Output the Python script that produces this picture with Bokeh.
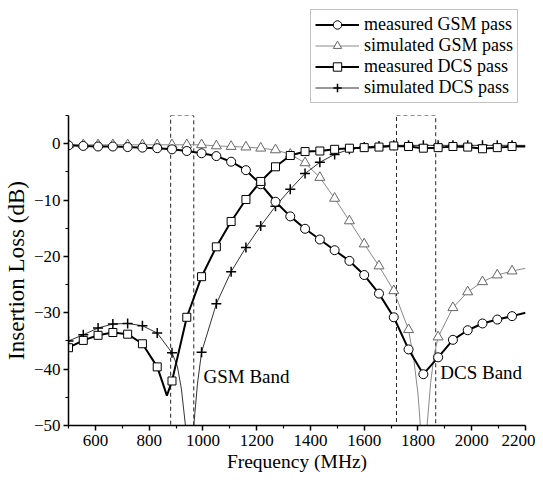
from bokeh.plotting import figure
from bokeh.models import Range1d, FixedTicker, Legend, LegendItem, Label
from bokeh.layouts import column
from bokeh.embed import file_html
from bokeh.resources import INLINE

nan = float("nan")
FONT = "Liberation Serif"

# ---- data ----
freq = [500, 555, 610, 665, 720, 775, 830, 885, 940, 995,
        1050, 1105, 1160, 1215, 1270, 1325, 1380, 1435, 1490, 1545,
        1600, 1655, 1710, 1765, 1820, 1875, 1930, 1985, 2040, 2095, 2150]

meas_gsm = [-0.3, -0.4, -0.5, -0.5, -0.6, -0.7, -0.8, -1.0, -1.3, -1.7,
            -2.2, -3.2, -4.7, -7.2, -10.3, -12.9, -15.1, -17.0, -18.9, -20.8,
            -23.3, -26.6, -30.8, -36.5, -40.9, -37.9, -34.8, -33.1, -31.9, -31.2, -30.6]
sim_gsm = [-0.2, -0.2, -0.2, -0.2, -0.2, -0.2, -0.2, -0.2, -0.2, -0.2,
           -0.4, -0.5, -0.6, -0.8, -1.1, -1.9, -3.4, -6.0, -9.7, -13.7,
           -17.8, -21.7, -26.1, -33.0, nan, -34.3, -29.1, -26.3, -24.5, -23.3, -22.6]
meas_dcs = [-36.2, -34.9, -34.0, -33.5, -33.8, -35.5, -39.6, -42.1, -30.8, -23.6,
            -18.3, -13.8, -9.9, -6.7, -4.1, -2.1, -1.4, -1.3, -1.0, -0.8,
            -0.7, -0.6, -0.4, -0.5, -0.8, -0.7, -0.5, -0.6, -0.9, -0.7, -0.5]
sim_dcs = [-35.0, -33.9, -32.7, -32.0, -31.9, -32.3, -33.6, -37.1, nan, -37.0,
           -28.4, -22.7, -18.4, -14.6, -11.1, -8.1, -5.3, -3.3, -1.9, -1.0,
           -0.6, -0.4, -0.3, -0.3, -0.3, -0.3, -0.3, -0.3, -0.3, -0.3, -0.3]

# extra curve points between markers (notches, curve ends)
meas_gsm_extra_f = [2200]
meas_gsm_extra_v = [-30.0]
sim_gsm_extra_f = [1785, 1800, 1809, 1815, 1821, 1828, 1834, 1847, 1860, 2200]
sim_gsm_extra_v = [-38.5, -44.4, -50.0, -60.0, -75.0, -60.0, -50.0, -42.5, -37.5, -22.1]
meas_dcs_extra_f = [850, 866, 2200]
meas_dcs_extra_v = [-42.4, -44.7, -0.5]
sim_dcs_extra_f = [905, 920, 935, 942, 950, 958, 966, 980, 2200]
sim_dcs_extra_v = [-39.5, -43.5, -50.0, -60.0, -75.0, -60.0, -50.0, -42.5, -0.3]

gsm_band = [880, 966]
dcs_band = [1720, 1866]
band_top, band_bottom = 5, -50

x_ticks = [600, 800, 1000, 1200, 1400, 1600, 1800, 2000, 2200]
x_minor = [500, 700, 900, 1100, 1300, 1500, 1700, 1900, 2100]
y_ticks = [-50, -40, -30, -20, -10, 0]
y_minor = [-45, -35, -25, -15, -5, 5]

series_names = ["measured GSM pass", "simulated GSM pass",
                "measured DCS pass", "simulated DCS pass"]

STYLE = {
    "meas_gsm": dict(line=dict(line_color="black", line_width=2),
                     mark=dict(marker="circle", size=9, fill_color="white",
                               line_color="black", line_width=1)),
    "sim_gsm": dict(line=dict(line_color="#8a8a8a", line_width=1),
                    mark=dict(marker="triangle", size=10, fill_color="white",
                              line_color="#666666", line_width=1)),
    "meas_dcs": dict(line=dict(line_color="black", line_width=2),
                     mark=dict(marker="square", size=8, fill_color="white",
                               line_color="black", line_width=1)),
    "sim_dcs": dict(line=dict(line_color="#333333", line_width=1),
                    mark=dict(marker="cross", size=10, line_color="black",
                              line_width=1.5)),
}
order = ["meas_gsm", "sim_gsm", "meas_dcs", "sim_dcs"]


def curve(f, v, ef, ev):
    pts = [(a, b) for a, b in zip(f, v) if b == b] + list(zip(ef, ev))
    pts.sort()
    return [a for a, _ in pts], [b for _, b in pts]


W = 535
LEG_H = 114
MAIN_H = 361

p = figure(width=W, height=MAIN_H, output_backend="svg", toolbar_location=None,
           x_range=Range1d(500, 2200), y_range=Range1d(-50, 5),
           min_border_left=60, min_border_right=10, min_border_top=1,
           min_border_bottom=50)
p.xgrid.visible = False
p.ygrid.visible = False
p.outline_line_color = None
p.background_fill_color = "white"

# band boxes
p.quad(left=[gsm_band[0], dcs_band[0]], right=[gsm_band[1], dcs_band[1]],
       top=[band_top, band_top], bottom=[band_bottom, band_bottom],
       fill_alpha=0, line_color="#222222", line_width=1, line_dash="4 3")

data = {
    "meas_gsm": (meas_gsm, meas_gsm_extra_f, meas_gsm_extra_v),
    "sim_gsm": (sim_gsm, sim_gsm_extra_f, sim_gsm_extra_v),
    "meas_dcs": (meas_dcs, meas_dcs_extra_f, meas_dcs_extra_v),
    "sim_dcs": (sim_dcs, sim_dcs_extra_f, sim_dcs_extra_v),
}
for key in ["sim_gsm", "sim_dcs", "meas_gsm", "meas_dcs"]:
    vals, ef, ev = data[key]
    cx, cy = curve(freq, vals, ef, ev)
    p.line(cx, cy, **STYLE[key]["line"])
for key in ["sim_gsm", "sim_dcs", "meas_gsm", "meas_dcs"]:
    vals = data[key][0]
    p.scatter(freq, vals, **STYLE[key]["mark"])

# axes
p.xaxis.ticker = FixedTicker(ticks=x_ticks, minor_ticks=x_minor)
p.yaxis.ticker = FixedTicker(ticks=y_ticks, minor_ticks=y_minor)
for ax in (p.xaxis[0], p.yaxis[0]):
    ax.axis_line_width = 1.5
    ax.axis_line_color = "black"
    ax.major_tick_line_width = 1.5
    ax.minor_tick_line_width = 1.2
    ax.major_tick_in = 0
    ax.major_tick_out = 5
    ax.minor_tick_in = 0
    ax.minor_tick_out = 3
    ax.major_label_text_font = FONT
    ax.major_label_text_font_size = "17px"
    ax.major_label_text_color = "black"
    ax.axis_label_text_font = FONT
    ax.axis_label_text_font_style = "normal"
    ax.axis_label_text_color = "black"
p.xaxis.axis_label = "Frequency (MHz)"
p.yaxis.axis_label = "Insertion Loss (dB)"
p.xaxis.axis_label_text_font_size = "19.5px"
p.yaxis.axis_label_text_font_size = "23px"
p.xaxis.major_label_standoff = 4
p.yaxis.major_label_standoff = 3
p.xaxis.axis_label_standoff = 2
p.yaxis.axis_label_standoff = 2

# band labels
p.add_layout(Label(x=1002, y=-43.2, text="GSM Band", text_font=FONT,
                   text_font_size="19px", text_color="black"))
p.add_layout(Label(x=1883, y=-42.4, text="DCS Band", text_font=FONT,
                   text_font_size="19px", text_color="black"))

# legend strip above the plot: same series and styles, data kept out of view
lf = figure(width=W, height=LEG_H, output_backend="svg", toolbar_location=None,
            x_axis_type=None, y_axis_type=None,
            x_range=Range1d(500, 2200), y_range=Range1d(100, 200),
            min_border_left=0, min_border_right=0, min_border_top=0,
            min_border_bottom=0)
lf.xgrid.visible = False
lf.ygrid.visible = False
lf.outline_line_color = None
items = []
for key, name in zip(order, series_names):
    vals, ef, ev = data[key]
    cx, cy = curve(freq, vals, ef, ev)
    lr = lf.line(cx, cy, **STYLE[key]["line"])
    sr = lf.scatter(freq, vals, **STYLE[key]["mark"])
    items.append(LegendItem(label=name, renderers=[lr, sr]))

legend = Legend(items=items, location=(242, 11))
legend.label_text_font = FONT
legend.label_text_font_size = "18px"
legend.label_text_color = "black"
legend.label_height = 21
legend.glyph_height = 21
legend.glyph_width = 44
legend.label_standoff = 5
legend.spacing = 0
legend.padding = 4
legend.margin = 0
legend.border_line_color = "#888888"
legend.border_line_width = 1
legend.background_fill_alpha = 1
lf.add_layout(legend, "center")

open("out.html", "w").write(file_html(column(lf, p), INLINE))
